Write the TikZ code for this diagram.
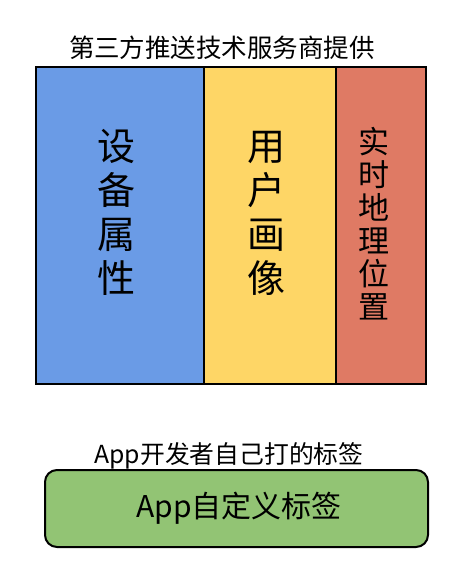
\documentclass[tikz,border=0pt]{standalone}
\usepackage{fontspec}
\setmainfont{Noto Sans CJK SC}
\begin{document}
\begin{tikzpicture}[x=1pt,y=-1pt,
  box/.style={draw=black,line width=2pt},
  vtext/.style={align=center,inner sep=0pt,text=black},
  lbl/.style={inner sep=0pt,text=black}]
\definecolor{cblue}{RGB}{106,155,230}
\definecolor{cyellow}{RGB}{254,214,102}
\definecolor{cred}{RGB}{223,122,100}
\definecolor{cgreen}{RGB}{146,196,116}
\useasboundingbox[fill=white] (0,0) rectangle (470,574);
\path[box,fill=cblue] (36,67) rectangle (204,384);
\path[box,fill=cyellow] (204,67) rectangle (336,384);
\path[box,fill=cred] (336,67) rectangle (426,384);
\node[lbl,font=\fontsize{25.5}{25.5}\selectfont] (title) at (222,48) {第三方推送技术服务商提供};
\node[vtext,font=\fontsize{38}{44}\selectfont] (dev) at (116,212) {设\\备\\属\\性};
\node[vtext,font=\fontsize{38}{44}\selectfont] (usr) at (266,213) {用\\户\\画\\像};
\node[vtext,font=\fontsize{31}{33}\selectfont] (geo) at (374,224) {实\\时\\地\\理\\位\\置};
\node[lbl,font=\fontsize{24.8}{24.8}\selectfont] (sub) at (229,456) {App开发者自己打的标签};
\draw[box,fill=cgreen,rounded corners=12pt] (45,470) rectangle (428,547);
\node[lbl,font=\fontsize{30}{30}\selectfont] (app) at (239,508) {App自定义标签};
\end{tikzpicture}
\end{document}
